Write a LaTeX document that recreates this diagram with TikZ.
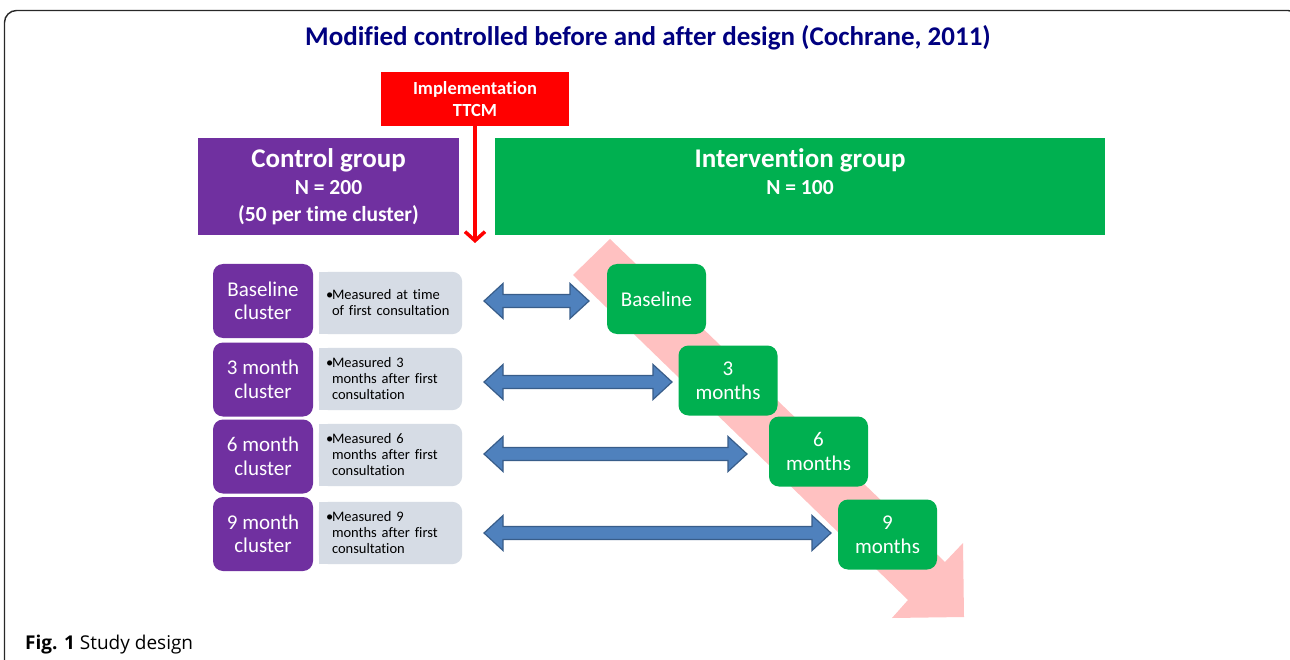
\documentclass[tikz,border=0pt]{standalone}
\usepackage{fontspec}
\setmainfont{Carlito}[Ligatures=NoCommon]
\newfontfamily\capfont{Open Sans}
\usetikzlibrary{arrows.meta,calc}
\definecolor{purp}{RGB}{112,48,160}
\definecolor{grn}{RGB}{0,176,80}
\definecolor{navy}{RGB}{0,0,128}
\definecolor{pinkarr}{RGB}{255,193,193}
\definecolor{blfill}{RGB}{79,129,189}
\definecolor{bldraw}{RGB}{56,93,138}
\definecolor{lightbox}{RGB}{214,220,229}
\definecolor{framecol}{RGB}{40,40,40}
\tikzset{
  titlestyle/.style={text=navy,font=\fontsize{27}{30}\selectfont\bfseries},
  redbox/.style={fill=red,text=white,align=center,minimum width=188,minimum height=54,inner sep=0,
    font=\fontsize{18.5}{22}\selectfont\bfseries},
  groupbox/.style={align=center,text=white,minimum width=#1,minimum height=97,inner sep=0,
    font=\fontsize{21.5}{27}\selectfont\bfseries},
  clusterbox/.style={fill=purp,rounded corners=10pt,text=white,align=center,minimum width=100,minimum height=74,
    inner sep=0,font=\fontsize{21}{23.5}\selectfont},
  measurebox/.style={text width=129,inner xsep=7,inner ysep=0,align=left,
    font=\fontsize{14.5}{16}\selectfont},
  greenbox/.style={fill=grn,rounded corners=10pt,text=white,align=center,minimum width=99,minimum height=70,
    inner sep=0,font=\fontsize{21}{24}\selectfont},
  blockarrow/.style={fill=blfill,draw=bldraw,line width=1.2pt,line join=miter},
  redarrow/.style={draw=red,line width=3.5pt,-{Straight Barb[length=9pt,width=20pt]}},
  framestyle/.style={draw=framecol,line width=1.4pt,rounded corners=12pt},
  plainbox/.style={minimum width=143,minimum height=62,inner sep=0},
}
\newcommand\mybullet{\makebox[6pt][l]{\textbullet}}
\newcommand\dblarrow[2]{%
  \path[blockarrow] (#1) -- ($(#1)+(19pt,17.5pt)$) -- ($(#1)+(19pt,6.5pt)$) -- ($(#2)+(-19pt,6.5pt)$)
   -- ($(#2)+(-19pt,17.5pt)$) -- (#2) -- ($(#2)+(-19pt,-17.5pt)$) -- ($(#2)+(-19pt,-6.5pt)$)
   -- ($(#1)+(19pt,-6.5pt)$) -- ($(#1)+(19pt,-17.5pt)$) -- cycle;}
\newcommand\measfill[1]{%
  \fill[lightbox,rounded corners=10pt] (#1.north west) rectangle (#1.south east);
  \fill[lightbox] (#1.north west) rectangle (#1.south);}
\begin{document}
\begin{tikzpicture}[x=1pt,y=-1pt]
\useasboundingbox (0,0) rectangle (1290,660);
\clip (0,0) rectangle (1290,660);
\fill[white] (0,0) rectangle (1290,660);
% frame
\draw[framestyle] (4.5,10.5) rectangle (1300,720);
% title
\node[titlestyle] (title) at (648,38) {Modified controlled before and after design (Cochrane, 2011)};
% pink time arrow
\fill[pinkarr] (573,275) -- (610,239) -- (945,562) -- (963,543) -- (964,617) -- (892,618) -- (908,600) -- cycle;
% implementation
\node[redbox] (impl) at (475,99) {Implementation\\TTCM};
\coordinate (implend) at (475,243);
\draw[redarrow] (impl.south) -- (implend);
% group boxes
\node[groupbox=261,fill=purp] (control) at (328.5,186.5)
  {{\fontsize{27}{27}\selectfont Control group}\\N = 200\\(50 per time cluster)};
\node[groupbox=610,fill=grn] (intervention) at (800,186.5)
  {{\fontsize{27}{27}\selectfont Intervention group}\\N = 100\\\phantom{(50 per time cluster)}};
% clusters
\node[clusterbox] (c1) at (263,301) {Baseline\\cluster};
\node[clusterbox] (c2) at (263,379.5) {3 month\\cluster};
\node[clusterbox] (c3) at (263,456.5) {6 month\\cluster};
\node[clusterbox] (c4) at (263,534) {9 month\\cluster};
% measure boxes
\node[plainbox] (m1) at (390.5,303) {};
\node[plainbox] (m2) at (390.5,379) {};
\node[plainbox] (m3) at (390.5,455) {};
\node[plainbox] (m4) at (390.5,533) {};
\measfill{m1}\measfill{m2}\measfill{m3}\measfill{m4}
\node[measurebox] (m1t) at (m1) {\mybullet Measured at time\\\hspace*{6pt}of first consultation};
\node[measurebox] (m2t) at (m2) {\mybullet Measured 3\\\hspace*{6pt}months after first\\\hspace*{6pt}consultation};
\node[measurebox] (m3t) at (m3) {\mybullet Measured 6\\\hspace*{6pt}months after first\\\hspace*{6pt}consultation};
\node[measurebox] (m4t) at (m4) {\mybullet Measured 9\\\hspace*{6pt}months after first\\\hspace*{6pt}consultation};
% green time nodes
\node[greenbox] (g1) at (656.5,299) {Baseline};
\node[greenbox] (g2) at (728,380.5) {3\\months};
\node[greenbox] (g3) at (818.5,451.5) {6\\months};
\node[greenbox] (g4) at (887.5,534.5) {9\\months};
% double block arrows
\coordinate (a1l) at (484,301); \coordinate (a1r) at (589,301);
\coordinate (a2l) at (484,382); \coordinate (a2r) at (672,382);
\coordinate (a3l) at (484,454); \coordinate (a3r) at (747,454);
\coordinate (a4l) at (484,533); \coordinate (a4r) at (831,533);
\dblarrow{a1l}{a1r}
\dblarrow{a2l}{a2r}
\dblarrow{a3l}{a3r}
\dblarrow{a4l}{a4r}
% caption
\node[anchor=base west,inner sep=0,font=\capfont\fontsize{19}{21}\selectfont] (caption) at (25,649)
  {\textbf{Fig. 1} Study design};
\end{tikzpicture}
\end{document}
